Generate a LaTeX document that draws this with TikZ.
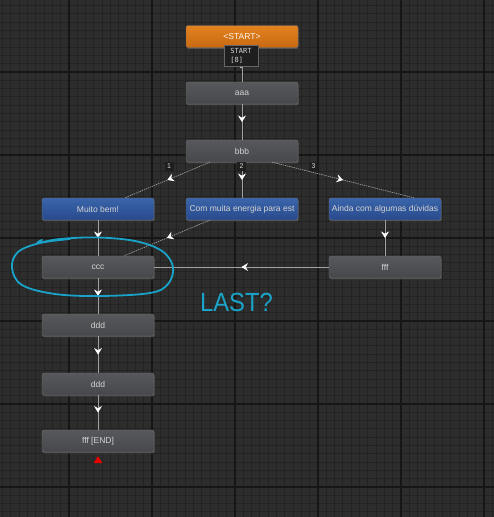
\documentclass[tikz,border=0pt]{standalone}
\usepackage{fontspec}
\setmainfont{Liberation Sans}
\newfontfamily\monofont{DejaVu Sans Mono}
\usetikzlibrary{arrows.meta,decorations.markings,shadows,calc}
\definecolor{bgc}{HTML}{2D2D2D}
\definecolor{minorc}{HTML}{232323}
\definecolor{majorc}{HTML}{161616}
\definecolor{linec}{HTML}{A2A2A2}
\definecolor{greytop}{HTML}{57585C}
\definecolor{greybot}{HTML}{47484C}
\definecolor{bluetop}{HTML}{3A65AA}
\definecolor{bluebot}{HTML}{284A8C}
\definecolor{orgtop}{HTML}{E3821F}
\definecolor{orgbot}{HTML}{C86913}
\definecolor{txtc}{HTML}{D4D4D4}
\definecolor{handc}{HTML}{1AA3C8}
\definecolor{lblbg}{HTML}{1E1E1E}
\tikzset{
  statebox/.style={rectangle, rounded corners=2pt, minimum width=112pt, minimum height=22pt,
    inner sep=0pt, draw=black!55, line width=0.3pt, text=txtc, font=\fontsize{8.5}{10}\selectfont,
    drop shadow={opacity=0.45, shadow xshift=0.6pt, shadow yshift=-1.4pt}},
  greybox/.style={statebox, top color=greytop, bottom color=greybot},
  bluebox/.style={statebox, top color=bluetop, bottom color=bluebot},
  orangebox/.style={statebox, top color=orgtop, bottom color=orgbot, text=white!92!orange},
  numlbl/.style={rectangle, fill=lblbg, text=txtc!90, inner sep=1.2pt, minimum width=9pt,
    minimum height=9pt, font=\fontsize{7}{8}\selectfont},
  conn/.style={draw=linec, line width=0.7pt},
  diag/.style={conn, dash pattern=on 1.3pt off 0.9pt},
  midarrow/.style={postaction={decorate}, decoration={markings,
    mark=at position 0.5 with {\arrow[white]{Stealth[width=8pt,length=6.5pt,inset=2.2pt]}}}},
}
\begin{document}
\begin{tikzpicture}[x=1pt,y=-1pt]
\useasboundingbox (0,0) rectangle (494,517);
\fill[bgc] (0,0) rectangle (494,517);
% minor grid
\foreach \i in {0,...,60} {
  \draw[minorc, line width=0.9pt] ({2.6+8.3*\i},0) -- ({2.6+8.3*\i},517);
}
\foreach \i in {0,...,63} {
  \draw[minorc, line width=0.9pt] (0,{5.6+8.3*\i}) -- (494,{5.6+8.3*\i});
}
% major grid
\foreach \i in {-1,...,5} {
  \draw[majorc, line width=1.1pt] ({69+83*\i},0) -- ({69+83*\i},517);
  \draw[majorc, line width=1.1pt] (0,{72+83*\i}) -- (494,{72+83*\i});
}

% nodes
\node[orangebox] (start) at (242,36.5) {<START>};
\node[greybox] (aaa) at (242,93) {aaa};
\node[greybox] (bbb) at (242,151) {bbb};
\node[bluebox] (muito) at (98,209) {Muito bem!};
\node[bluebox] (com) at (242,209) {Com muita energia para est};
\node[bluebox] (ainda) at (385,209) {Ainda com algumas dúvidas};
\node[greybox] (ccc) at (98,267) {ccc};
\node[greybox] (fff) at (385,267) {fff};
\node[greybox] (ddda) at (98,325) {ddd};
\node[greybox] (dddb) at (98,384) {ddd};
\node[greybox] (endn) at (98,441) {fff [END]};

% connectors
\draw[conn] (start.south) -- (aaa.north);
\draw[conn, midarrow] (aaa.south) -- (bbb.north);
\draw[diag, midarrow] ([xshift=24pt]bbb.south west) -- ([xshift=83pt]muito.north west);
\draw[conn, midarrow] (bbb.south) -- (com.north);
\draw[diag, midarrow] ([xshift=-26pt]bbb.south east) -- ([xshift=-27pt]ainda.north east);
\draw[diag, midarrow] ([xshift=24pt]com.south west) -- ([xshift=82pt]ccc.north west);
\draw[conn, midarrow] (muito.south) -- (ccc.north);
\draw[conn, midarrow] (ainda.south) -- (fff.north);
\draw[conn, midarrow] (fff.west) -- (ccc.east);
\draw[conn, midarrow] (ccc.south) -- (ddda.north);
\draw[conn, midarrow] (ddda.south) -- (dddb.north);
\draw[conn, midarrow] (dddb.south) -- (endn.north);

% start label
\node[rectangle, fill=lblbg, draw=black!60, line width=0.3pt, text=txtc, align=left,
  inner xsep=1.5pt, inner ysep=1.5pt, minimum width=34pt, minimum height=21pt, anchor=north,
  font=\monofont\fontsize{7}{8.5}\selectfont] (startlbl) at (241,45) {START\\{[8]}};
\fill[white] ($(startlbl.south)+(0,1)$) circle (0.8pt);

% edge number labels
\node[numlbl] (n1) at (169,166.5) {1};
\node[numlbl] (n2) at (241.5,166.5) {2};
\node[numlbl] (n3) at (313.5,166.5) {3};

% end marker
\fill[red!90!black] ($(endn.south)+(-4.5,11)$) -- ($(endn.south)+(0,4)$) -- ($(endn.south)+(4.5,11)$) -- cycle;

% hand-drawn annotation
\draw[handc, line width=1.8pt, line cap=round, line join=round]
  plot[smooth, tension=0.6] coordinates {(42,240) (38,243) (60,239) (97,237.5) (135,241)
   (162,251) (173,267) (168,284) (150,293) (100,296) (55,294) (22,285) (12,268) (18,252) (40,243) (70,239)};
\node[text=handc, font=\fontsize{25}{28}\selectfont, inner sep=0pt, anchor=north west] (last)
  at (200,293) {\scalebox{0.95}[1.05]{LAST?}};
\end{tikzpicture}
\end{document}
